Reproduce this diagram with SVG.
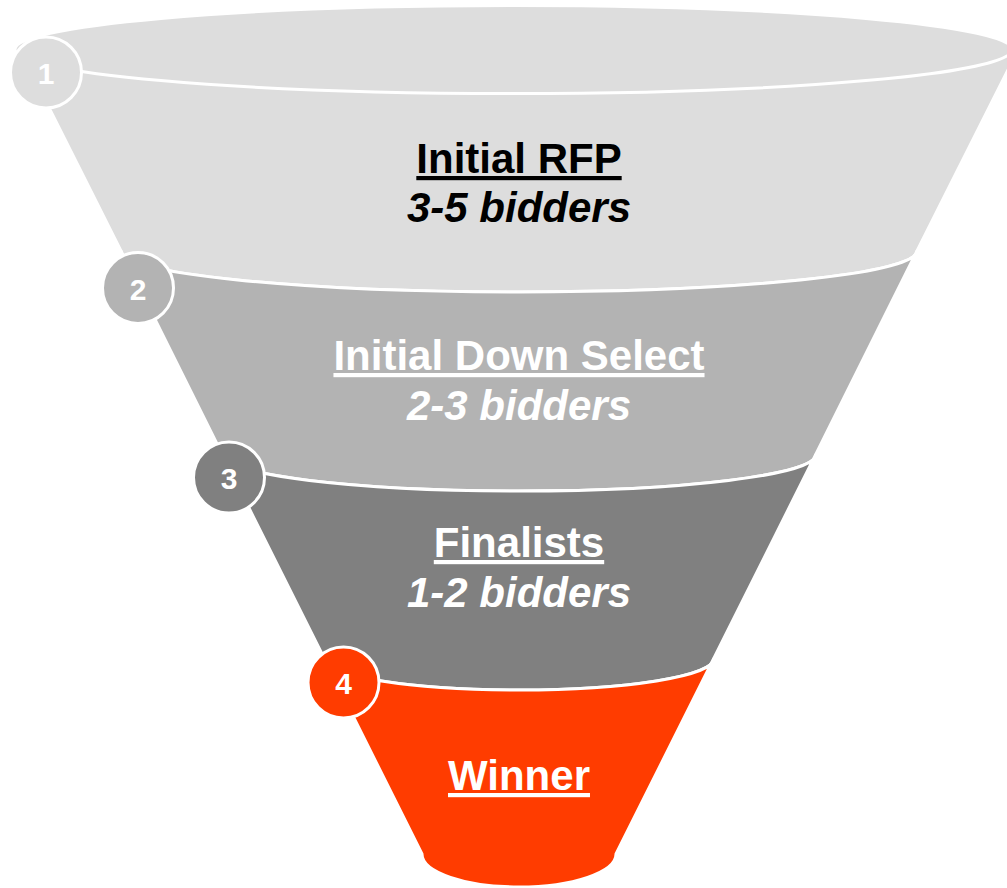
<svg xmlns="http://www.w3.org/2000/svg" width="1007" height="888" viewBox="0 0 1007 888">
  <style>
    .seg { stroke: #FFFFFF; stroke-width: 3; stroke-linejoin: round; }
    .badge { stroke: #FFFFFF; stroke-width: 3; }
    .title { font-family: "Liberation Sans", Arial, sans-serif; font-weight: bold; font-size: 42px; text-anchor: middle; text-decoration: underline; }
    .sub { font-family: "Liberation Sans", Arial, sans-serif; font-weight: bold; font-style: italic; font-size: 42px; text-anchor: middle; }
    .num { font-family: "Liberation Sans", Arial, sans-serif; font-weight: bold; font-size: 30px; text-anchor: middle; fill: #FFFFFF; }
    .dark { fill: #000000; }
    .light { fill: #FFFFFF; }
  </style>
  <rect width="1007" height="888" fill="#FFFFFF"/>

  <g id="stage1">
    <path class="seg" fill="#DDDDDD" d="M 19.75,49.5 L 121,251 A 398,41 0 0 0 917,251 L 1018.25,49.5 Z"/>
    <ellipse class="seg" fill="#DDDDDD" cx="513.5" cy="49.5" rx="498.5" ry="44"/>
    <text class="title dark" x="519" y="173">Initial RFP</text>
    <text class="sub dark" x="519" y="222">3-5 bidders</text>
    <circle class="badge" fill="#DDDDDD" cx="46" cy="72.5" r="35.5"/>
    <text class="num" x="46" y="83.5">1</text>
  </g>

  <g id="stage2">
    <path class="seg" fill="#B3B3B3" d="M 121,251 A 398,41 0 0 0 917,251 L 815.5,455 A 296.5,36 0 0 1 222.5,455 Z"/>
    <text class="title light" x="519" y="370">Initial Down Select</text>
    <text class="sub light" x="519" y="420">2-3 bidders</text>
    <circle class="badge" fill="#B3B3B3" cx="138" cy="288" r="35.5"/>
    <text class="num" x="138" y="300">2</text>
  </g>

  <g id="stage3">
    <path class="seg" fill="#808080" d="M 222.5,455 A 296.5,36 0 0 0 815.5,455 L 713.5,659 A 194.5,31 0 0 1 324.5,659 Z"/>
    <text class="title light" x="519" y="557">Finalists</text>
    <text class="sub light" x="519" y="607">1-2 bidders</text>
    <circle class="badge" fill="#808080" cx="229" cy="477.5" r="35.5"/>
    <text class="num" x="229" y="489">3</text>
  </g>

  <g id="stage4">
    <path class="seg" fill="#FF3C00" d="M 324.5,659 A 194.5,31 0 0 0 713.5,659 L 616,854 A 97,33 0 0 1 422,854 Z"/>
    <text class="title light" x="519" y="790">Winner</text>
    <circle class="badge" fill="#FF3C00" cx="343.5" cy="682.5" r="35.5"/>
    <text class="num" x="343.5" y="694">4</text>
  </g>

  <g id="connectors"/>
</svg>
